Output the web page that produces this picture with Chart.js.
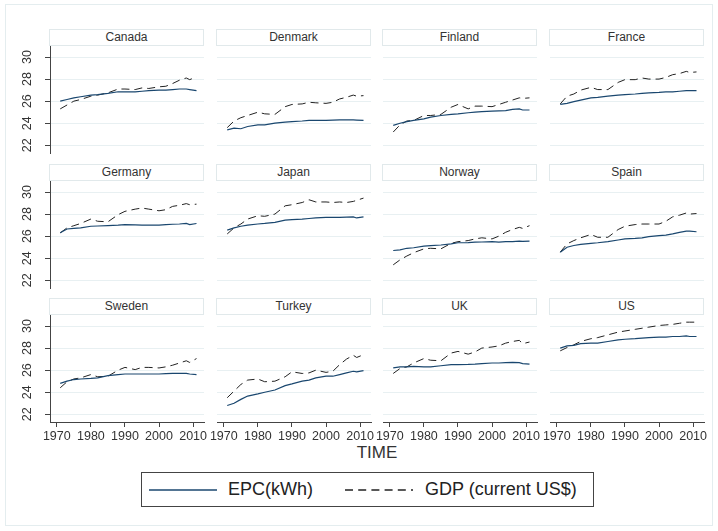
<!DOCTYPE html>
<html>
<head>
<meta charset="utf-8">
<script src="https://cdn.jsdelivr.net/npm/chart.js@4.4.1/dist/chart.umd.min.js"></script>
<style>
  body { margin: 0; background: #fff; }
  #wrap { position: relative; width: 718px; height: 531px; overflow: hidden; font-family: "Liberation Sans", Arial, sans-serif; color: #222; }
  #frame { position: absolute; left: 5px; top: 4px; width: 708px; height: 522px; border: 1px solid #e4edef; box-sizing: border-box; }
  .strip { position: absolute; width: 155px; height: 17px; border: 1px solid #e1e9eb; box-sizing: border-box; text-align: center; font-size: 12px; line-height: 15px; color: #333; background: #fff; }
  canvas { position: absolute; }
  #xtitle { position: absolute; left: 0; width: 754px; top: 443px; text-align: center; font-size: 17px; color: #333; }
  #legend { position: absolute; left: 141px; top: 472px; width: 453px; height: 35px; border: 1px solid #444; box-sizing: border-box; font-size: 18px; color: #222; }
  #legend span { position: absolute; top: 6px; line-height: 20px; }
  #legend svg { position: absolute; }
</style>
</head>
<body>
<div id="wrap">
  <div id="frame"></div>
  <div id="xtitle">TIME</div>
  <div id="legend">
    <svg style="left:7px;top:15px" width="70" height="4"><line x1="0" y1="2" x2="68" y2="2" stroke="#1a476f" stroke-width="1.5"/></svg>
    <span style="left:86px">EPC(kWh)</span>
    <svg style="left:203px;top:15px" width="70" height="4"><line x1="0" y1="2" x2="68" y2="2" stroke="#222" stroke-width="1.3" stroke-dasharray="8,5.2"/></svg>
    <span style="left:283px">GDP (current US$)</span>
  </div>
</div>
<script>
// shared axes
const years = [1971, 1973, 1975, 1977, 1980, 1982, 1985, 1988, 1990, 1993, 1995, 1997, 2000, 2002, 2004, 2006, 2008, 2009, 2011];
const xTicks = [1970, 1980, 1990, 2000, 2010];
const yTicks = [22, 24, 26, 28, 30];
const countries = ['Canada', 'Denmark', 'Finland', 'France', 'Germany', 'Japan', 'Norway', 'Spain', 'Sweden', 'Turkey', 'UK', 'US'];

// EPC(kWh), log scale values
const epcCanada  = [26.0, 26.15, 26.3, 26.4, 26.55, 26.6, 26.7, 26.85, 26.85, 26.85, 26.9, 26.95, 27.0, 27.0, 27.05, 27.1, 27.1, 27.05, 26.95];
const epcDenmark = [23.4, 23.55, 23.5, 23.7, 23.85, 23.85, 24.0, 24.1, 24.15, 24.2, 24.25, 24.25, 24.25, 24.28, 24.3, 24.3, 24.3, 24.28, 24.25];
const epcFinland = [23.8, 24.0, 24.15, 24.25, 24.4, 24.55, 24.7, 24.8, 24.85, 24.95, 25.0, 25.05, 25.1, 25.12, 25.15, 25.25, 25.3, 25.2, 25.2];
const epcFrance  = [25.7, 25.8, 25.95, 26.1, 26.3, 26.35, 26.45, 26.55, 26.6, 26.65, 26.7, 26.75, 26.8, 26.85, 26.85, 26.9, 26.95, 26.95, 26.95];
const epcGermany = [26.3, 26.65, 26.7, 26.75, 26.9, 26.92, 26.95, 27.0, 27.05, 27.02, 27.0, 27.0, 27.0, 27.05, 27.08, 27.1, 27.15, 27.05, 27.15];
const epcJapan   = [26.55, 26.75, 26.9, 27.0, 27.1, 27.15, 27.25, 27.45, 27.5, 27.55, 27.6, 27.65, 27.7, 27.7, 27.7, 27.72, 27.75, 27.65, 27.75];
const epcNorway  = [24.7, 24.75, 24.9, 24.95, 25.1, 25.15, 25.2, 25.3, 25.4, 25.42, 25.45, 25.47, 25.5, 25.45, 25.5, 25.5, 25.55, 25.52, 25.55];
const epcSpain   = [24.55, 25.0, 25.15, 25.25, 25.35, 25.4, 25.5, 25.65, 25.75, 25.8, 25.85, 25.95, 26.05, 26.1, 26.2, 26.35, 26.45, 26.45, 26.4];
const epcSweden  = [24.8, 25.0, 25.15, 25.2, 25.25, 25.3, 25.5, 25.6, 25.65, 25.65, 25.65, 25.65, 25.65, 25.68, 25.7, 25.7, 25.7, 25.65, 25.6];
const epcTurkey  = [22.8, 23.0, 23.35, 23.65, 23.85, 24.0, 24.2, 24.6, 24.75, 25.0, 25.1, 25.3, 25.45, 25.45, 25.6, 25.75, 25.9, 25.85, 25.95];
const epcUK      = [26.2, 26.3, 26.3, 26.35, 26.3, 26.3, 26.4, 26.5, 26.5, 26.52, 26.55, 26.6, 26.65, 26.65, 26.68, 26.7, 26.68, 26.6, 26.55];
const epcUS      = [28.0, 28.2, 28.25, 28.4, 28.45, 28.45, 28.6, 28.75, 28.8, 28.85, 28.9, 28.95, 29.0, 29.0, 29.05, 29.05, 29.1, 29.05, 29.05];

// GDP (current US$)
const gdpCanada  = [25.3, 25.65, 26.0, 26.15, 26.45, 26.55, 26.75, 27.1, 27.1, 27.05, 27.2, 27.15, 27.3, 27.35, 27.6, 27.9, 28.1, 27.95, 28.2];
const gdpDenmark = [23.6, 24.2, 24.5, 24.7, 25.0, 24.85, 24.8, 25.5, 25.7, 25.75, 25.9, 25.85, 25.8, 25.9, 26.2, 26.35, 26.55, 26.45, 26.5];
const gdpFinland = [23.2, 23.85, 24.2, 24.25, 24.7, 24.7, 24.8, 25.45, 25.7, 25.3, 25.55, 25.55, 25.5, 25.7, 25.9, 26.1, 26.3, 26.25, 26.3];
const gdpFrance  = [25.75, 26.45, 26.65, 27.0, 27.25, 27.05, 27.05, 27.7, 27.95, 27.95, 28.1, 28.0, 28.0, 28.15, 28.4, 28.5, 28.7, 28.6, 28.65];
const gdpGermany = [26.3, 26.75, 26.95, 27.15, 27.55, 27.35, 27.3, 27.95, 28.25, 28.45, 28.55, 28.45, 28.3, 28.4, 28.7, 28.8, 28.95, 28.85, 28.9];
const gdpJapan   = [26.2, 26.75, 27.1, 27.55, 27.85, 27.8, 28.0, 28.75, 28.85, 29.05, 29.3, 29.1, 29.1, 29.05, 29.1, 29.05, 29.15, 29.25, 29.45];
const gdpNorway  = [23.4, 23.85, 24.2, 24.5, 24.85, 24.9, 24.85, 25.35, 25.5, 25.6, 25.75, 25.85, 25.75, 26.0, 26.35, 26.6, 26.8, 26.7, 26.95];
const gdpSpain   = [24.55, 25.3, 25.6, 25.85, 26.15, 25.9, 25.9, 26.6, 26.9, 27.05, 27.1, 27.1, 27.1, 27.35, 27.75, 27.9, 28.1, 28.0, 28.05];
const gdpSweden  = [24.4, 24.95, 25.2, 25.3, 25.6, 25.4, 25.45, 26.0, 26.25, 26.05, 26.25, 26.25, 26.2, 26.3, 26.45, 26.65, 26.85, 26.7, 27.05];
const gdpTurkey  = [23.5, 24.1, 24.7, 25.1, 25.2, 24.95, 25.0, 25.4, 25.85, 25.7, 25.75, 26.0, 25.8, 25.9, 26.5, 27.0, 27.35, 27.15, 27.4];
const gdpUK      = [25.7, 26.15, 26.3, 26.65, 27.05, 26.9, 26.85, 27.55, 27.7, 27.45, 27.65, 28.0, 28.1, 28.2, 28.45, 28.6, 28.7, 28.4, 28.55];
const gdpUS      = [27.75, 28.05, 28.3, 28.6, 28.85, 28.95, 29.2, 29.45, 29.55, 29.7, 29.8, 29.9, 30.05, 30.1, 30.15, 30.25, 30.35, 30.35, 30.35];

const epcSeries = [epcCanada, epcDenmark, epcFinland, epcFrance, epcGermany, epcJapan, epcNorway, epcSpain, epcSweden, epcTurkey, epcUK, epcUS];
const gdpSeries = [gdpCanada, gdpDenmark, gdpFinland, gdpFrance, gdpGermany, gdpJapan, gdpNorway, gdpSpain, gdpSweden, gdpTurkey, gdpUK, gdpUS];

const FONT = '"Liberation Sans", Arial, sans-serif';
const wrap = document.getElementById('wrap');

// rotated y tick labels like Stata
const yLabels = {
  id: 'yLabels',
  afterDraw(chart) {
    const ctx = chart.ctx;
    const scale = chart.scales.y;
    ctx.save();
    ctx.fillStyle = '#333';
    ctx.font = '12.5px ' + FONT;
    ctx.textAlign = 'center';
    ctx.textBaseline = 'middle';
    yTicks.forEach(function (v) {
      ctx.save();
      ctx.translate(chart.chartArea.left - 22, scale.getPixelForValue(v));
      ctx.rotate(-Math.PI / 2);
      ctx.fillText(String(v), 0, 0);
      ctx.restore();
    });
    ctx.restore();
  }
};

function toPoints(vals) {
  return years.map((yr, i) => ({ x: yr, y: vals[i] }));
}

countries.forEach(function (name, i) {
  const r = Math.floor(i / 4), c = i % 4;
  const plotLeft = Math.round(50 + c * 166.6);
  const plotTop = Math.round(46 + r * 134.6);
  const plotW = 154, plotH = 107;
  const bottomRow = r === 2;

  // strip title
  const strip = document.createElement('div');
  strip.className = 'strip';
  strip.style.left = (plotLeft - 1) + 'px';
  strip.style.top = (plotTop - 17) + 'px';
  strip.textContent = name;
  wrap.appendChild(strip);

  const padL = c === 0 ? 45 : 15;
  const padB = bottomRow ? 30 : 5;
  const cv = document.createElement('canvas');
  cv.width = padL + plotW + 15;
  cv.height = 5 + plotH + padB;
  cv.style.left = (plotLeft - padL) + 'px';
  cv.style.top = (plotTop - 5) + 'px';
  wrap.appendChild(cv);

  new Chart(cv, {
    type: 'line',
    data: {
      datasets: [{
        label: 'EPC(kWh)',
        data: toPoints(epcSeries[i]),
        borderColor: '#1a476f',
        borderWidth: 1.2,
        pointRadius: 0,
        fill: false
      }, {
        label: 'GDP (current US$)',
        data: toPoints(gdpSeries[i]),
        borderColor: '#222',
        borderWidth: 1,
        borderDash: [8, 5],
        pointRadius: 0,
        fill: false
      }]
    },
    options: {
      responsive: false,
      animation: false,
      devicePixelRatio: 1,
      layout: { padding: { left: c === 0 ? 0 : 15, right: 15, top: 5, bottom: bottomRow ? 0 : 5 } },
      plugins: { legend: { display: false }, tooltip: { enabled: false } },
      scales: {
        x: {
          type: 'linear',
          min: 1968,
          max: 2013.2,
          display: bottomRow,
          afterBuildTicks: function (s) { s.ticks = xTicks.map(v => ({ value: v })); },
          afterFit: function (s) { s.height = bottomRow ? 30 : 0; },
          grid: { drawOnChartArea: false, tickLength: 5, tickColor: '#444' },
          border: { color: '#444', width: 1 },
          ticks: { font: { family: FONT, size: 12.5 }, color: '#333', padding: 2, maxRotation: 0, callback: v => String(v) }
        },
        y: {
          min: 21.3,
          max: 31,
          afterBuildTicks: function (s) { s.ticks = yTicks.map(v => ({ value: v })); },
          afterFit: function (s) { s.width = c === 0 ? 45 : 0; },
          grid: { color: '#e8f0f2', lineWidth: 1, tickLength: 5, tickColor: '#444', drawTicks: c === 0 },
          border: { display: c === 0, color: '#444', width: 1 },
          ticks: { display: false }
        }
      }
    },
    plugins: c === 0 ? [yLabels] : []
  });
});
</script>
</body>
</html>
